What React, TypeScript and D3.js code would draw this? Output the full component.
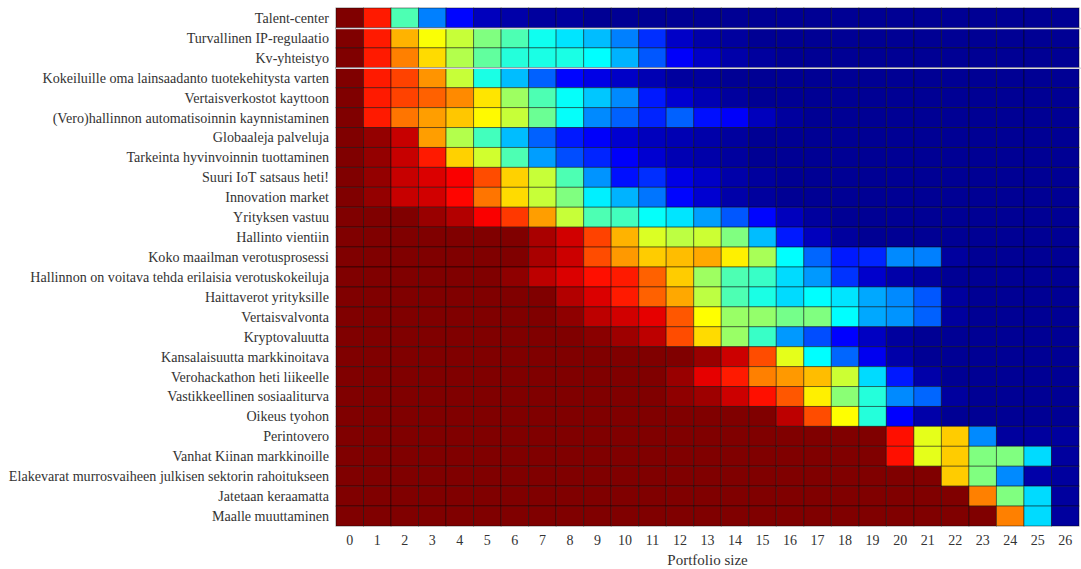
import * as d3 from 'd3';

// ideas (rows), top to bottom
const ideas = [
  'Talent-center',
  'Turvallinen IP-regulaatio',
  'Kv-yhteistyo',
  'Kokeiluille oma lainsaadanto tuotekehitysta varten',
  'Vertaisverkostot kayttoon',
  '(Vero)hallinnon automatisoinnin kaynnistaminen',
  'Globaaleja palveluja',
  'Tarkeinta hyvinvoinnin tuottaminen',
  'Suuri IoT satsaus heti!',
  'Innovation market',
  'Yrityksen vastuu',
  'Hallinto vientiin',
  'Koko maailman verotusprosessi',
  'Hallinnon on voitava tehda erilaisia verotuskokeiluja',
  'Haittaverot yrityksille',
  'Vertaisvalvonta',
  'Kryptovaluutta',
  'Kansalaisuutta markkinoitava',
  'Verohackathon heti liikeelle',
  'Vastikkeellinen sosiaaliturva',
  'Oikeus tyohon',
  'Perintovero',
  'Vanhat Kiinan markkinoille',
  'Elakevarat murrosvaiheen julkisen sektorin rahoitukseen',
  'Jatetaan keraamatta',
  'Maalle muuttaminen',
];

// columns / x tick labels
const portfolioSizes = [
  0, 1, 2, 3, 4, 5, 6, 7, 8, 9, 10, 11, 12, 13, 14, 15, 16, 17, 18, 19, 20, 21, 22, 23, 24, 25, 26,
];

// share of non-dominated portfolios of each size that contain the idea (0..1)
const inclusion: number[][] = [
  [1, .85, .45, .25, .13, .06, .04, .03, .03, .02, .02, .02, .02, .02, .02, .02, .02, .02, .02, .02, .02, .02, .02, .02, .02, .02, .02],
  [1, .85, .70, .62, .57, .50, .45, .39, .35, .31, .25, .17, .07, .04, .03, .02, .02, .02, .02, .02, .02, .02, .02, .02, .02, .02, .02],
  [1, .85, .75, .66, .55, .47, .41, .40, .40, .375, .30, .21, .12, .07, .04, .03, .02, .02, .02, .02, .02, .02, .02, .02, .02, .02, .02],
  [1, .85, .81, .73, .57, .40, .31, .22, .13, .10, .07, .05, .03, .03, .02, .02, .02, .02, .02, .02, .02, .02, .02, .02, .02, .02, .02],
  [1, .85, .81, .78, .74, .65, .53, .45, .38, .32, .26, .15, .08, .05, .03, .02, .02, .02, .02, .02, .02, .02, .02, .02, .02, .02, .02],
  [1, .85, .76, .72, .68, .63, .57, .48, .38, .26, .22, .16, .22, .14, .12, .06, .03, .02, .02, .02, .02, .02, .02, .02, .02, .02, .02],
  [1, .98, .93, .72, .55, .44, .31, .22, .15, .12, .08, .06, .05, .04, .03, .02, .02, .02, .02, .02, .02, .02, .02, .02, .02, .02, .02],
  [1, .98, .93, .85, .67, .58, .45, .28, .20, .16, .12, .08, .05, .04, .03, .02, .02, .02, .02, .02, .02, .02, .02, .02, .02, .02, .02],
  [1, .98, .93, .91, .88, .80, .67, .57, .45, .27, .14, .17, .10, .07, .04, .03, .02, .02, .02, .02, .02, .02, .02, .02, .02, .02, .02],
  [1, .98, .93, .92, .87, .76, .66, .57, .50, .36, .30, .24, .13, .08, .04, .03, .02, .02, .02, .02, .02, .02, .02, .02, .02, .02, .02],
  [1, 1, 1, .975, .95, .88, .82, .72, .57, .45, .44, .38, .35, .28, .21, .13, .06, .03, .02, .02, .02, .02, .02, .02, .02, .02, .02],
  [1, 1, 1, 1, 1, 1, 1, .96, .92, .81, .70, .59, .56, .575, .50, .31, .15, .06, .03, .02, .02, .02, .02, .02, .02, .02, .02],
  [1, 1, 1, 1, 1, 1, 1, .96, .925, .80, .725, .675, .69, .71, .64, .54, .375, .225, .15, .16, .26, .25, .03, .02, .02, .02, .02],
  [1, 1, 1, 1, 1, 1, .985, .94, .91, .86, .85, .78, .675, .53, .45, .43, .34, .275, .175, .075, .04, .03, .02, .02, .02, .02, .02],
  [1, 1, 1, 1, 1, 1, 1, 1, .95, .91, .85, .78, .71, .56, .45, .40, .34, .375, .35, .29, .26, .21, .03, .02, .02, .02, .02],
  [1, 1, 1, 1, 1, 1, 1, 1, .985, .94, .92, .90, .79, .625, .525, .52, .49, .50, .375, .29, .27, .22, .03, .02, .02, .02, .02],
  [1, 1, 1, 1, 1, 1, 1, 1, 1, .99, .97, .94, .80, .66, .525, .43, .275, .20, .125, .065, .03, .02, .02, .02, .02, .02, .02],
  [1, 1, 1, 1, 1, 1, 1, 1, 1, 1, 1, 1, 1, .975, .925, .80, .60, .375, .225, .11, .04, .02, .02, .02, .02, .02, .02],
  [1, 1, 1, 1, 1, 1, 1, 1, 1, 1, 1, 1, .975, .90, .85, .75, .725, .69, .575, .34, .15, .04, .02, .02, .02, .02, .02],
  [1, 1, 1, 1, 1, 1, 1, 1, 1, 1, 1, 1, .985, .97, .925, .86, .79, .64, .51, .41, .26, .225, .03, .02, .02, .02, .02],
  [1, 1, 1, 1, 1, 1, 1, 1, 1, 1, 1, 1, 1, 1, 1, 1, .94, .80, .625, .41, .125, .04, .02, .02, .02, .02, .02],
  [1, 1, 1, 1, 1, 1, 1, 1, 1, 1, 1, 1, 1, 1, 1, 1, 1, 1, 1, 1, .86, .60, .675, .26, .03, .03, .03],
  [1, 1, 1, 1, 1, 1, 1, 1, 1, 1, 1, 1, 1, 1, 1, 1, 1, 1, 1, 1, .86, .60, .675, .50, .50, .34, .03],
  [1, 1, 1, 1, 1, 1, 1, 1, 1, 1, 1, 1, 1, 1, 1, 1, 1, 1, 1, 1, 1, 1, .675, .50, .26, .04, .03],
  [1, 1, 1, 1, 1, 1, 1, 1, 1, 1, 1, 1, 1, 1, 1, 1, 1, 1, 1, 1, 1, 1, 1, .75, .50, .34, .03],
  [1, 1, 1, 1, 1, 1, 1, 1, 1, 1, 1, 1, 1, 1, 1, 1, 1, 1, 1, 1, 1, 1, 1, 1, .75, .34, .03],
];

// jet colormap
const jetStops = [0, 0.125, 0.375, 0.625, 0.875, 1];
const jetColors = ['#000080', '#0000ff', '#00ffff', '#ffff00', '#ff0000', '#800000'];

const W = 1081;
const H = 569;
const plot = { left: 336, right: 1079, top: 8, bottom: 526 };
const font = '"Liberation Serif", "DejaVu Serif", serif';

const App = () => {
  const x = d3.scaleBand<number>()
    .domain(portfolioSizes)
    .range([plot.left, plot.right]);

  const y = d3.scaleBand<string>()
    .domain(ideas)
    .range([plot.top, plot.bottom]);

  const color = d3.scaleLinear<string>()
    .domain(jetStops)
    .range(jetColors)
    .interpolate(d3.interpolateRgb)
    .clamp(true);

  return (
    <svg
      width={W}
      height={H}
      style={{ position: 'absolute', left: 0, top: 0, background: '#fff' }}
    >
      {ideas.map((idea, i) => (
        <g key={idea}>
          {portfolioSizes.map((k, j) => (
            <rect
              key={k}
              x={x(k)}
              y={y(idea)}
              width={x.bandwidth()}
              height={y.bandwidth()}
              fill={color(inclusion[i][j])}
              stroke="#000"
              strokeOpacity={0.45}
              strokeWidth={1}
            />
          ))}
          <text
            x={plot.left - 7}
            y={(y(idea) as number) + y.bandwidth() / 2}
            dy="0.35em"
            textAnchor="end"
            fontFamily={font}
            fontSize={14.1}
            fill="#333"
          >
            {idea}
          </text>
        </g>
      ))}

      {/* light seams in the original capture */}
      {[1, 3].map(r => (
        <line
          key={r}
          x1={plot.left}
          x2={plot.right + 2}
          y1={(y(ideas[r]) as number) + 0.5}
          y2={(y(ideas[r]) as number) + 0.5}
          stroke="#d8d8e0"
          strokeWidth={1.5}
        />
      ))}

      {portfolioSizes.map(k => (
        <text
          key={k}
          x={(x(k) as number) + x.bandwidth() / 2}
          y={545}
          textAnchor="middle"
          fontFamily={font}
          fontSize={14}
          fill="#333"
        >
          {k}
        </text>
      ))}
      <text
        x={(plot.left + plot.right) / 2}
        y={565}
        textAnchor="middle"
        fontFamily={font}
        fontSize={15}
        fill="#333"
      >
        Portfolio size
      </text>
    </svg>
  );
};

export default App;
